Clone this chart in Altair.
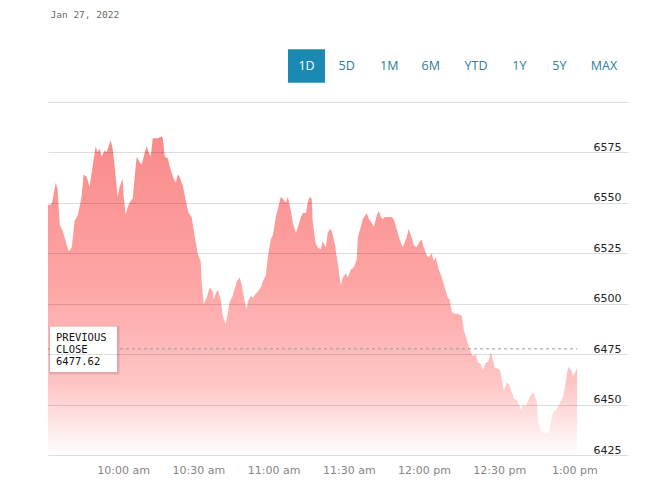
import altair as alt
import pandas as pd

# ---------------- data ----------------
DATE_LABEL = "Jan 27, 2022"
BUTTONS = ["1D", "5D", "1M", "6M", "YTD", "1Y", "5Y", "MAX"]
SELECTED = "1D"
PREV_CLOSE = 6477.62

# minutes after 9:30 am
MINUTES = [
    0, 1.1, 1.6, 3.1, 3.8, 4.7, 5.9, 7.5, 8.3, 9.5, 10.6, 11.9, 13.4, 14.2, 15.4, 16.6,
    17.8, 19.0, 19.8, 20.6, 21.4, 22.6, 23.4, 25.0, 25.8, 26.6, 27.8, 28.6, 29.8, 30.2,
    31.0, 31.8, 33.0, 33.8, 34.6, 35.4, 36.6, 37.4, 38.6, 39.4, 40.2, 41.0, 41.8, 43.8,
    45.4, 45.8, 46.6, 47.8, 48.6, 49.8, 51.0, 51.8, 52.5, 53.3, 53.7, 54.5, 55.3, 56.1,
    57.3, 58.5, 59.7, 60.9, 61.3, 62.1, 63.3, 64.5, 65.7, 66.1, 66.9, 67.7, 68.9, 69.7,
    70.9, 71.7, 72.5, 73.7, 75.3, 76.5, 77.3, 78.5, 79.3, 79.7, 80.9, 81.7, 82.9, 83.7,
    84.9, 85.7, 86.9, 87.7, 88.9, 89.7, 90.9, 92.1, 92.9, 93.7, 94.9, 95.7, 96.9, 97.7,
    98.9, 99.7, 100.9, 101.7, 102.9, 103.6, 104.4, 105.2, 105.6, 106.8, 107.6, 108.8,
    109.6, 110.8, 111.6, 112.4, 113.2, 114.4, 115.6, 116.8, 117.6, 118.8, 119.6, 120.8,
    122.0, 123.2, 123.6, 124.8, 125.6, 127.2, 128.0, 129.2, 130.0, 131.2, 132.0, 132.8,
    133.6, 134.4, 135.5, 137.1, 137.9, 139.1, 140.3, 141.5, 143.1, 143.9, 145.1, 145.9,
    147.1, 147.9, 149.1, 149.9, 151.1, 151.9, 153.1, 153.9, 154.7, 155.9, 157.1, 158.3,
    159.5, 160.3, 161.1, 162.3, 163.5, 165.1, 165.9, 167.1, 168.3, 169.5, 170.7, 171.5,
    172.7, 173.5, 174.7, 175.5, 176.7, 177.5, 178.3, 179.1, 180.3, 181.1, 181.9, 183.1,
    183.9, 185.1, 185.9, 187.1, 187.9, 188.7, 189.5, 190.7, 191.5, 192.7, 193.5, 194.3,
    195.1, 195.5, 196.7, 197.5, 199.1, 199.9, 200.7, 201.5, 203.1, 204.3, 205.5, 206.3,
    207.1, 207.9, 209.1, 209.5, 210.3, 211.1,
]
PRICES = [
    6549, 6549, 6550, 6560, 6557, 6539, 6536, 6529, 6526, 6528, 6541, 6544, 6553, 6564, 6563, 6558,
    6568, 6578, 6575, 6577, 6573, 6576, 6575, 6581, 6577, 6568, 6553, 6558, 6562, 6553,
    6544, 6548, 6551, 6552, 6563, 6573, 6570, 6569, 6575, 6578, 6575, 6573, 6582, 6582,
    6583, 6582, 6573, 6572, 6568, 6563, 6560, 6564, 6563, 6560, 6559, 6554, 6549, 6545,
    6543, 6534, 6525, 6521, 6511, 6500, 6503, 6508, 6506, 6502, 6505, 6507, 6502, 6494,
    6490, 6495, 6501, 6504, 6511, 6513, 6509, 6501, 6497, 6501, 6504, 6503, 6505, 6506,
    6508, 6511, 6514, 6523, 6532, 6534, 6543, 6549, 6553, 6552, 6550, 6553, 6546, 6540,
    6535, 6538, 6543, 6545, 6545, 6550, 6553, 6552, 6541, 6530, 6528, 6527,
    6531, 6528, 6535, 6537, 6536, 6530, 6520, 6509, 6513, 6515, 6513, 6517,
    6518, 6522, 6533, 6538, 6542, 6545, 6542, 6540, 6538, 6544, 6546, 6543,
    6542, 6543, 6543, 6543, 6542, 6537, 6532, 6528, 6533, 6537, 6533, 6529,
    6528, 6530, 6532, 6528, 6524, 6523, 6525, 6521, 6523, 6517, 6513, 6508,
    6503, 6502, 6496, 6495, 6495, 6494, 6487, 6482, 6477, 6474, 6475, 6471,
    6470, 6467, 6471, 6471, 6476, 6472, 6468, 6468, 6467, 6462, 6457, 6461,
    6460, 6456, 6453, 6452, 6450, 6447, 6450, 6449, 6452, 6455, 6456, 6454,
    6451, 6442, 6437, 6436, 6436, 6436, 6442, 6446, 6448, 6451, 6454, 6459,
    6466, 6469, 6466, 6464, 6466, 6468,
]
X_TICK_MINUTES = [30, 60, 90, 120, 150, 180, 210]
X_TICK_LABELS = ["10:00 am", "10:30 am", "11:00 am", "11:30 am", "12:00 pm", "12:30 pm", "1:00 pm"]
Y_TICKS = [6425, 6450, 6475, 6500, 6525, 6550, 6575, 6600]

# ---------------- layout ----------------
W, H = 580, 353
X_DOMAIN = [0, 231.4]
Y_DOMAIN = [6425, 6600]
BUTTON_CENTERS = [258.5, 298.7, 341.3, 382.7, 428.0, 471.3, 511.3, 556.0]  # px from plot left
BTN_Y = -36
TEAL = "#1a8ab3"
TEXT_TEAL = "#2e7d9a"

df = pd.DataFrame({"minute": MINUTES, "price": PRICES})

x_scale = alt.Scale(domain=X_DOMAIN, nice=False, zero=False)
y_scale = alt.Scale(domain=Y_DOMAIN, nice=False, zero=False)

labels_js = "[" + ",".join("'" + s + "'" for s in X_TICK_LABELS) + "]"
x_label_expr = f"{labels_js}[round(datum.value / 30) - 1]"

gradient = alt.Gradient(
    gradient="linear",
    stops=[
        alt.GradientStop(color="#f98a8a", offset=0),
        alt.GradientStop(color="#fea4a4", offset=0.45),
        alt.GradientStop(color="#ffc6c6", offset=0.78),
        alt.GradientStop(color="#ffffff", offset=1),
    ],
    x1=1, x2=1, y1=0, y2=1,
)

area = alt.Chart(df).mark_area(color=gradient, interpolate="linear").encode(
    x=alt.X(
        "minute:Q", scale=x_scale,
        axis=alt.Axis(
            values=X_TICK_MINUTES, labelExpr=x_label_expr, grid=False, domain=False,
            ticks=False, labelPadding=9, labelColor="#858585", labelFont="DejaVu Sans",
            labelFontSize=11, title=None,
        ),
    ),
    y=alt.Y(
        "price:Q", scale=y_scale,
        axis=alt.Axis(
            orient="right", values=Y_TICKS, format="d",
            labelExpr="datum.value == 6600 ? '' : datum.label",
            grid=True, gridColor="#000000", gridOpacity=0.13, domain=False, ticks=False,
            labelPadding=-7, labelAlign="right", labelBaseline="alphabetic", labelOffset=-2,
            labelColor="#222222", labelFont="DejaVu Sans", labelFontSize=11, title=None,
            zindex=1,
        ),
    ),
    y2=alt.datum(Y_DOMAIN[0]),
)

prev_line = alt.Chart(pd.DataFrame({"v": [PREV_CLOSE]})).mark_rule(
    color="#9a9a9a", strokeDash=[3, 3], strokeWidth=1
).encode(
    x=alt.datum(MINUTES[0]), x2=alt.datum(MINUTES[-1]), y=alt.Y("v:Q", scale=y_scale)
)

box_df = pd.DataFrame({"t": ["PREVIOUS\nCLOSE\n" + f"{PREV_CLOSE:.2f}"]})
shadow1 = alt.Chart(box_df).mark_rect(color="#000000", opacity=0.06).encode(
    x=alt.value(1), x2=alt.value(72), y=alt.value(223.5), y2=alt.value(273)
)
shadow2 = alt.Chart(box_df).mark_rect(color="#000000", opacity=0.08).encode(
    x=alt.value(1.5), x2=alt.value(70.5), y=alt.value(224), y2=alt.value(271.5)
)
box = alt.Chart(box_df).mark_rect(color="#ffffff").encode(
    x=alt.value(2), x2=alt.value(69), y=alt.value(224.5), y2=alt.value(270)
)
box_text = alt.Chart(box_df).mark_text(
    align="left", baseline="alphabetic", font="DejaVu Sans Mono", fontSize=10.5,
    lineBreak="\n", lineHeight=12.2, color="#111111",
).encode(x=alt.value(8), y=alt.value(238.7), text="t:N")

title = alt.Chart(pd.DataFrame({"t": [DATE_LABEL]})).mark_text(
    align="left", baseline="alphabetic", font="DejaVu Sans Mono", fontSize=9.5, color="#6a6a6a"
).encode(x=alt.value(2.5), y=alt.value(-84), text="t:N")

sel_idx = BUTTONS.index(SELECTED)
sel_rect = alt.Chart(pd.DataFrame({"b": [SELECTED]})).mark_rect(color=TEAL).encode(
    x=alt.value(BUTTON_CENTERS[sel_idx] - 18.5), x2=alt.value(BUTTON_CENTERS[sel_idx] + 18.5),
    y=alt.value(BTN_Y - 16.7), y2=alt.value(BTN_Y + 16.7),
)

btn_df = pd.DataFrame({"label": BUTTONS, "cx": BUTTON_CENTERS})
buttons = alt.Chart(btn_df).mark_text(
    align="center", baseline="middle", font="Open Sans", fontSize=12.5
).encode(
    x=alt.X("cx:Q", scale=None),
    y=alt.value(BTN_Y),
    text="label:N",
    color=alt.condition(alt.datum.label == SELECTED, alt.value("#ffffff"), alt.value(TEXT_TEAL)),
)

chart = alt.layer(
    area, prev_line, shadow1, shadow2, box, box_text, title, sel_rect, buttons
).properties(
    width=W, height=H,
    background="#ffffff",
    autosize=alt.AutoSizeParams(type="none"),
    padding={"left": 40, "top": 94, "right": 22, "bottom": 24},
).configure_view(strokeWidth=0)

chart.save("out.html", embed_options={"renderer": "svg", "actions": False})
